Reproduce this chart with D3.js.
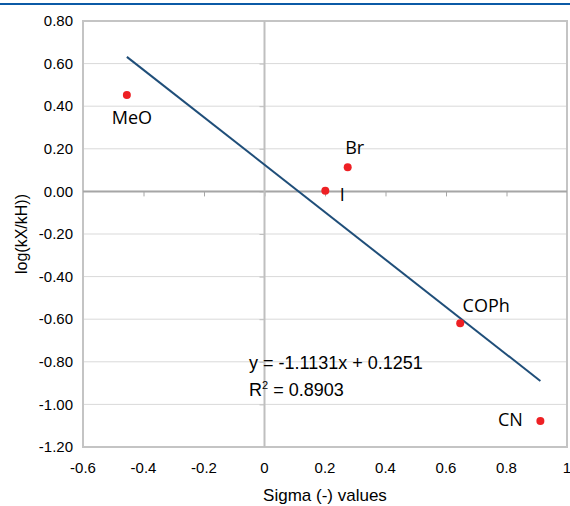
<!DOCTYPE html>
<html>
<head>
<meta charset="utf-8">
<script src="https://cdn.jsdelivr.net/npm/d3@7"></script>
<style>
  body { margin: 0; background: #fff; }
  text { font-family: "Liberation Sans", Arial, sans-serif; fill: #000; }
  .lbl { font-family: "Open Sans", "Noto Sans", sans-serif; }
</style>
</head>
<body>
<script>
// substituents and their values
var names  = ["MeO", "I", "Br", "COPh", "CN"];
var sigma  = [-0.455, 0.201, 0.275, 0.647, 0.912];
var logk   = [0.452, 0.003, 0.113, -0.619, -1.078];

// trendline from the chart's equation
var slope = -1.1131;
var intercept = 0.1251;
var r2 = 0.8903;

var xTicks = [-0.6, -0.4, -0.2, 0, 0.2, 0.4, 0.6, 0.8, 1];
var yTicks = [0.8, 0.6, 0.4, 0.2, 0, -0.2, -0.4, -0.6, -0.8, -1.0, -1.2];

// where each label sits relative to its point
var labelOffset = {
  "MeO":  [5, 29],
  "I":    [17, 10],
  "Br":   [7, -13],
  "COPh": [26, -11],
  "CN":   [-30, 5]
};

var w = 570, h = 506;
var margin = {top: 21, right: 3, bottom: 59, left: 83};

var svg = d3.select("body").append("svg")
    .attr("width", w)
    .attr("height", h);

// blue rule along the top
svg.append("rect")
    .attr("x", 0).attr("y", 3)
    .attr("width", w).attr("height", 2)
    .attr("fill", "#0b5aa6");

var x = d3.scaleLinear().domain([-0.6, 1]).range([margin.left, w - margin.right]);
var y = d3.scaleLinear().domain([-1.2, 0.8]).range([h - margin.bottom, margin.top]);

// horizontal gridlines
svg.append("g")
  .selectAll("line")
  .data(yTicks)
  .enter().append("line")
    .attr("x1", x(-0.6)).attr("x2", x(1))
    .attr("y1", d => y(d)).attr("y2", d => y(d))
    .attr("stroke", "#d9d9d9")
    .attr("stroke-width", 1);

// plot border
svg.append("rect")
    .attr("x", x(-0.6)).attr("y", y(0.8))
    .attr("width", x(1) - x(-0.6))
    .attr("height", y(-1.2) - y(0.8))
    .attr("fill", "none")
    .attr("stroke", "#c4c4c4")
    .attr("stroke-width", 2);

// axis lines through the origin, with small tick marks
svg.append("g")
    .attr("transform", "translate(0," + y(0) + ")")
    .call(d3.axisBottom(x).tickValues(xTicks.slice(1, -1)).tickSize(5).tickFormat(""))
    .call(g => g.select(".domain").remove())
    .selectAll("line").attr("stroke", "#a6a6a6");

svg.append("g")
    .attr("transform", "translate(" + x(0) + ",0)")
    .call(d3.axisLeft(y).tickValues(yTicks.slice(1, -1)).tickSize(5).tickFormat(""))
    .call(g => g.select(".domain").remove())
    .selectAll("line").attr("stroke", "#bfbfbf");

svg.append("line")
    .attr("x1", x(-0.6)).attr("x2", x(1))
    .attr("y1", y(0)).attr("y2", y(0))
    .attr("stroke", "#a6a6a6").attr("stroke-width", 2);

svg.append("line")
    .attr("x1", x(0)).attr("x2", x(0))
    .attr("y1", y(0.8)).attr("y2", y(-1.2))
    .attr("stroke", "#bfbfbf").attr("stroke-width", 2);

// tick labels
svg.append("g")
  .selectAll("text")
  .data(xTicks)
  .enter().append("text")
    .attr("x", d => x(d))
    .attr("y", y(-1.2) + 26)
    .attr("text-anchor", "middle")
    .style("font-size", "15px")
    .text(d => String(+d.toFixed(1)));

svg.append("g")
  .selectAll("text")
  .data(yTicks)
  .enter().append("text")
    .attr("x", margin.left - 10)
    .attr("y", d => y(d))
    .attr("dy", "0.35em")
    .attr("text-anchor", "end")
    .style("font-size", "15px")
    .text(d => d.toFixed(2));

// axis titles
svg.append("text")
    .attr("x", (x(-0.6) + x(1)) / 2)
    .attr("y", h - 5)
    .attr("text-anchor", "middle")
    .style("font-size", "17px")
    .text("Sigma (-) values");

svg.append("text")
    .attr("transform", "translate(27," + (y(0.8) + y(-1.2)) / 2 + ") rotate(-90)")
    .attr("text-anchor", "middle")
    .style("font-size", "16px")
    .text("log(kX/kH))");

// linear trendline over the range of the data
var xr = d3.extent(sigma);
svg.append("line")
    .attr("x1", x(xr[0])).attr("y1", y(slope * xr[0] + intercept))
    .attr("x2", x(xr[1])).attr("y2", y(slope * xr[1] + intercept))
    .attr("stroke", "#1f4e79")
    .attr("stroke-width", 2);

// points
var pts = names.map((n, i) => ({name: n, sx: sigma[i], ly: logk[i]}));

svg.append("g")
  .selectAll("circle")
  .data(pts)
  .enter().append("circle")
    .attr("cx", d => x(d.sx))
    .attr("cy", d => y(d.ly))
    .attr("r", 4)
    .attr("fill", "#ee2024");

svg.append("g")
  .selectAll("text")
  .data(pts)
  .enter().append("text")
    .attr("class", "lbl")
    .attr("x", d => x(d.sx) + labelOffset[d.name][0])
    .attr("y", d => y(d.ly) + labelOffset[d.name][1])
    .attr("text-anchor", "middle")
    .style("font-size", "18px")
    .text(d => d.name);

// equation and R squared
var eq = svg.append("g").style("font-size", "18px");
eq.append("text")
    .attr("x", 249).attr("y", 369)
    .text("y = " + slope + "x + " + intercept);
var r2t = eq.append("text")
    .attr("x", 249).attr("y", 396);
r2t.append("tspan").text("R");
r2t.append("tspan").attr("dy", -7).style("font-size", "11px").text("2");
r2t.append("tspan").attr("dy", 7).text(" = " + r2);
</script>
</body>
</html>
